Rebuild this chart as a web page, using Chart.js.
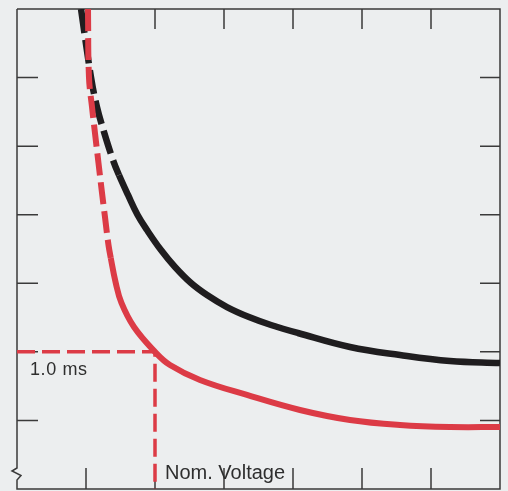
<!DOCTYPE html>
<html>
<head>
<meta charset="utf-8">
<script src="https://cdn.jsdelivr.net/npm/chart.js@4/dist/chart.umd.min.js"></script>
<style>
    html, body { margin: 0; padding: 0; background: #eceeef; }
    #wrap { width: 508px; height: 491px; position: relative; }
</style>
</head>
<body>
<div id="wrap"><canvas id="chart" width="508" height="491"></canvas></div>
<script>
// --- DATA (axis units, 0..7 both ways) ---
const xTicks = [1, 2, 3, 4, 5, 6];
const yTicks = [1, 2, 3, 4, 5, 6];

// black curve: dashed up to blackBreak, solid after
const blackX = [0.928, 1.072, 1.159, 1.261, 1.391, 1.478, 1.609, 1.746, 1.884, 2.087, 2.290, 2.522, 2.754, 3.043, 3.362, 3.681, 4.072, 4.826, 5.551, 6.275, 7.000];
const blackY = [7.000, 6.008, 5.571, 5.206, 4.798, 4.579, 4.288, 4.000, 3.777, 3.485, 3.238, 3.004, 2.829, 2.654, 2.508, 2.392, 2.275, 2.071, 1.954, 1.867, 1.838];
const blackBreak = 5;

// red curve: dashed up to redBreak, solid after
const redX = [1.029, 1.043, 1.087, 1.130, 1.181, 1.232, 1.275, 1.326, 1.359, 1.428, 1.514, 1.696, 2.000, 2.217, 2.652, 3.333, 4.101, 4.826, 5.551, 6.275, 7.000];
const redY = [7.000, 6.008, 5.571, 5.192, 4.754, 4.317, 3.967, 3.558, 3.369, 3.019, 2.713, 2.362, 2.000, 1.808, 1.590, 1.371, 1.152, 1.006, 0.933, 0.904, 0.904];
const redBreak = 8;

// nominal voltage / 1.0 ms marker
const nomX = [0, 2, 2];
const nomY = [2, 2, 0];

const RED = '#dc3b46';
const BLACK = '#1f1d1f';
const AXIS = '#3a3a3a';
const TEXT = '#2e2e2e';

const toPoints = (xs, ys) => xs.map((x, i) => ({ x, y: ys[i] }));

// frame, inward ticks and the break mark on the left axis
const framePlugin = {
    id: 'frame',
    beforeDatasetsDraw(chart) {
        const { ctx, chartArea: a, scales: { x, y } } = chart;
        ctx.save();
        ctx.strokeStyle = AXIS;
        ctx.lineWidth = 1.5;
        ctx.beginPath();
        ctx.moveTo(a.left, a.top);
        ctx.lineTo(a.right, a.top);
        ctx.lineTo(a.right, a.bottom);
        ctx.lineTo(a.left, a.bottom);
        ctx.lineTo(a.left, a.bottom - 9);
        ctx.lineTo(a.left + 4, a.bottom - 13.5);
        ctx.lineTo(a.left - 5, a.bottom - 18);
        ctx.lineTo(a.left, a.bottom - 21);
        ctx.lineTo(a.left, a.top);
        ctx.stroke();

        ctx.beginPath();
        xTicks.forEach(v => {
            const px = x.getPixelForValue(v);
            ctx.moveTo(px, a.top); ctx.lineTo(px, a.top + 20);
            ctx.moveTo(px, a.bottom); ctx.lineTo(px, a.bottom - 21);
        });
        yTicks.forEach(v => {
            const py = y.getPixelForValue(v);
            ctx.moveTo(a.left, py); ctx.lineTo(a.left + 21, py);
            ctx.moveTo(a.right, py); ctx.lineTo(a.right - 20, py);
        });
        ctx.stroke();
        ctx.restore();
    },
    afterDatasetsDraw(chart) {
        const { ctx, chartArea: a, scales: { x, y } } = chart;
        ctx.save();
        ctx.fillStyle = TEXT;
        ctx.textBaseline = 'alphabetic';
        ctx.font = '18px "Liberation Sans", Arial, sans-serif';
        ctx.letterSpacing = '0.6px';
        ctx.fillText('1.0 ms', x.getPixelForValue(0) + 13, y.getPixelForValue(2) + 23);
        ctx.font = '20px "Liberation Sans", Arial, sans-serif';
        ctx.letterSpacing = '0px';
        ctx.fillText('Nom. Voltage', x.getPixelForValue(2) + 10, a.bottom - 10);
        ctx.restore();
    }
};

new Chart(document.getElementById('chart'), {
    type: 'line',
    data: {
        datasets: [
            {
                data: toPoints(redX, redY),
                borderColor: RED,
                borderWidth: 6,
                tension: 0.4,
                segment: { borderDash: ctx => ctx.p0DataIndex < redBreak ? [22, 7] : [] },
                order: 1
            },
            {
                data: toPoints(blackX, blackY),
                borderColor: BLACK,
                borderWidth: 6.5,
                tension: 0.4,
                segment: { borderDash: ctx => ctx.p0DataIndex < blackBreak ? [24, 7] : [] },
                order: 2
            },
            {
                data: toPoints(nomX, nomY),
                borderColor: RED,
                borderWidth: 3.5,
                borderDash: [18, 7],
                tension: 0,
                order: 3
            }
        ]
    },
    options: {
        responsive: false,
        animation: false,
        events: [],
        layout: { padding: { left: 17, top: 9, right: 8, bottom: 2 } },
        elements: { point: { radius: 0 }, line: { borderCapStyle: 'butt' } },
        plugins: { legend: { display: false }, tooltip: { enabled: false } },
        scales: {
            x: { type: 'linear', min: 0, max: 7, display: false },
            y: { type: 'linear', min: 0, max: 7, display: false }
        }
    },
    plugins: [framePlugin]
});
</script>
</body>
</html>
